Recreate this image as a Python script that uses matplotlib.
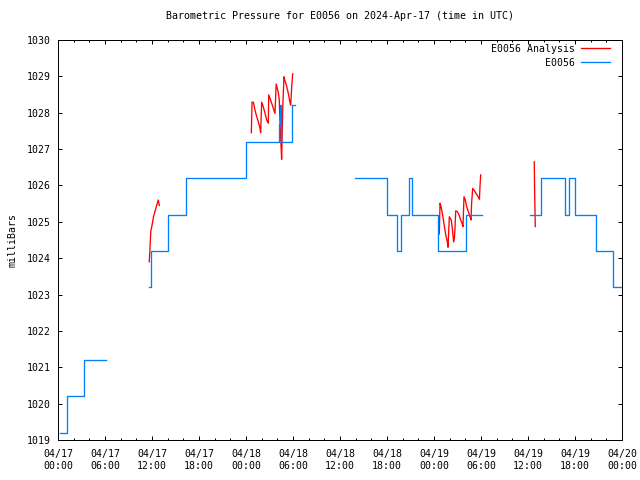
from datetime import datetime, timedelta
import numpy as np
import matplotlib
matplotlib.use('Agg')
import matplotlib.pyplot as plt
import matplotlib.dates as mdates

start = datetime(2024, 4, 17)
nan = np.nan

# E0056 observations (hours after 04/17 00:00 UTC, mb); nan = gap
blue_hours = [0.25, 1.15, 3.3, 6.1, 6.1,
              11.6, 11.9, 14.0, 16.3, 24.0, 28.2, 28.3, 28.45, 29.85, 30.2, 30.2,
              37.9, 42.0, 43.3, 43.8, 44.8, 45.2, 48.5, 52.1, 54.1, 54.1,
              60.2, 61.6, 64.7, 65.2, 66.0, 68.7, 70.85, 72.0]
blue_mb = [1019.2, 1020.2, 1021.2, 1021.2, nan,
           1023.2, 1024.2, 1025.2, 1026.2, 1027.2, 1027.7, 1028.2, 1027.2, 1028.2, 1028.2, nan,
           1026.2, 1025.2, 1024.2, 1025.2, 1026.2, 1025.2, 1024.2, 1025.2, 1025.2, nan,
           1025.2, 1026.2, 1025.2, 1026.2, 1025.2, 1024.2, 1023.2, 1023.2]

# E0056 Analysis
red_hours = [11.65, 11.75, 11.85, 12.0, 12.2, 12.4, 12.6, 12.8, 12.93, 12.93,
             24.68, 24.77, 24.94, 25.15, 25.37, 25.57, 25.79, 25.87, 26.0, 26.2,
             26.43, 26.64, 26.85, 26.9, 27.06, 27.28, 27.49, 27.7, 27.85, 28.13,
             28.25, 28.34, 28.45, 28.55, 28.7, 28.85, 28.95, 29.2, 29.4, 29.6,
             29.7, 29.85, 29.96, 29.96,
             48.68, 48.77, 48.9, 49.1, 49.3, 49.5, 49.7, 49.79, 49.96, 50.2,
             50.34, 50.5, 50.6, 50.68, 50.77, 50.98, 51.2, 51.4, 51.57, 51.7,
             51.83, 52.0, 52.17, 52.38, 52.6, 52.73, 52.8, 52.94, 53.15, 53.36,
             53.58, 53.8, 53.87, 53.96, 53.96,
             60.8, 60.85, 60.93]
red_mb = [1023.9, 1024.3, 1024.75, 1024.9, 1025.15, 1025.3, 1025.45, 1025.6, 1025.45, nan,
          1027.45, 1028.29, 1028.29, 1028.07, 1027.89, 1027.75, 1027.57, 1027.45, 1028.29, 1028.17,
          1027.98, 1027.8, 1027.71, 1028.49, 1028.4, 1028.26, 1028.12, 1027.98, 1028.79, 1028.55,
          1028.35, 1027.75, 1027.2, 1026.72, 1028.21, 1028.99, 1028.9, 1028.72, 1028.53, 1028.3,
          1028.21, 1028.76, 1029.07, nan,
          1024.67, 1025.51, 1025.42, 1025.19, 1024.91, 1024.64, 1024.45, 1024.3, 1025.14, 1025.05,
          1024.82, 1024.45, 1024.55, 1024.82, 1025.3, 1025.28, 1025.19, 1025.05, 1024.96, 1024.87,
          1025.69, 1025.6, 1025.42, 1025.28, 1025.14, 1025.05, 1025.51, 1025.92, 1025.86, 1025.78,
          1025.71, 1025.62, 1025.97, 1026.29, nan,
          1026.65, 1025.8, 1024.87]


def to_dates(hours):
    return [start + timedelta(hours=h) for h in hours]


plt.rcParams['font.family'] = 'DejaVu Sans Mono'
plt.rcParams['font.size'] = 7.1

fig = plt.figure(figsize=(6.4, 4.8), dpi=100)
ax = fig.add_axes([58 / 640, 40 / 480, 564 / 640, 400 / 480])

ax.plot(to_dates(red_hours), red_mb, color='#ff0000', lw=0.95,
        label='E0056 Analysis')
ax.plot(to_dates(blue_hours), blue_mb, color='#0080ff', lw=0.95,
        drawstyle='steps-post', label='E0056')

ax.set_xlim(start, start + timedelta(hours=72))
ax.set_ylim(1019, 1030)
ax.yaxis.set_major_locator(plt.MultipleLocator(1))
ax.xaxis.set_major_locator(mdates.HourLocator(byhour=[0, 6, 12, 18]))
ax.xaxis.set_minor_locator(mdates.HourLocator(byhour=range(0, 24, 2)))
ax.xaxis.set_major_formatter(mdates.DateFormatter('%m/%d\n%H:%M'))

ax.tick_params(which='both', direction='in', top=True, right=True, width=0.72)
ax.tick_params(which='major', length=2.9)
ax.tick_params(which='minor', length=1.45)
ax.tick_params(axis='y', pad=5)
ax.tick_params(axis='x', pad=6.5)
for s in ax.spines.values():
    s.set_linewidth(0.72)

ax.set_title('Barometric Pressure for E0056 on 2024-Apr-17 (time in UTC)', fontsize=7.2, pad=15)
ax.set_ylabel('milliBars')
ax.yaxis.set_label_coords(-0.072, 0.5)

ax.legend(loc='upper right', bbox_to_anchor=(0.986, 1.0), markerfirst=False,
          frameon=False, handlelength=3.0, handletextpad=0.6, borderaxespad=0,
          labelspacing=0.37)

fig.savefig('out.png', dpi=100)
